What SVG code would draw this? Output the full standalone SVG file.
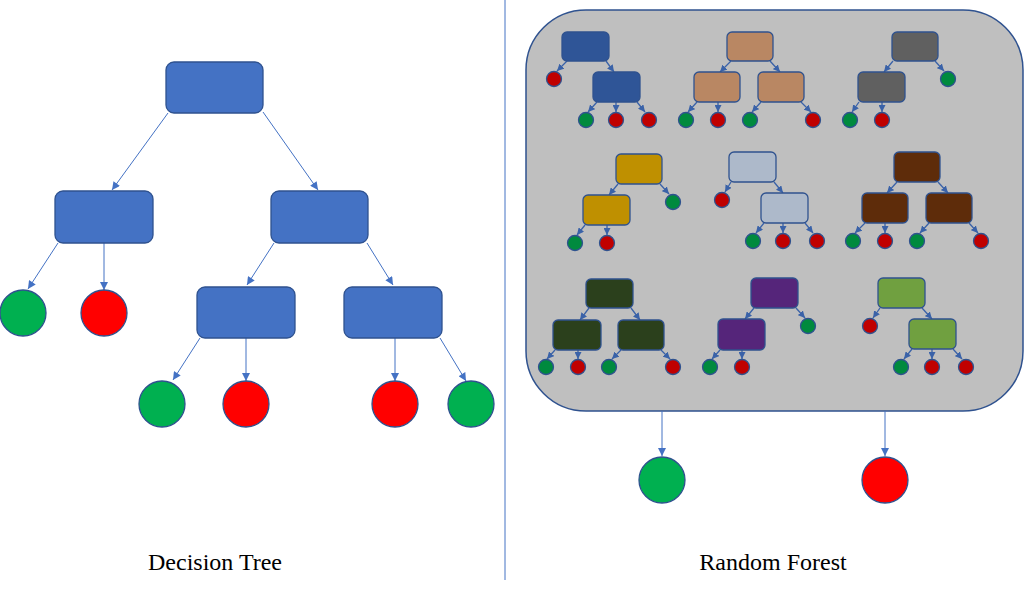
<svg xmlns="http://www.w3.org/2000/svg" width="1024" height="610" viewBox="0 0 1024 610">
<defs>
<marker id="ab" viewBox="0 0 10 10" refX="10" refY="5" markerUnits="userSpaceOnUse" markerWidth="9" markerHeight="8" orient="auto"><path d="M0,0 L10,5 L0,10 z" fill="#4472C4"/></marker>
<marker id="as" viewBox="0 0 10 10" refX="10" refY="5" markerUnits="userSpaceOnUse" markerWidth="7" markerHeight="7" orient="auto"><path d="M0,0 L10,5 L0,10 z" fill="#3A62A8"/></marker>
</defs>
<style>
.bl{stroke:#4472C4;stroke-width:1;fill:none;marker-end:url(#ab)}
.sl{stroke:#3A62A8;stroke-width:1.3;fill:none;marker-end:url(#as)}
.bn{fill:#4472C4;stroke:#2F528F;stroke-width:1.3}
.sn{stroke:#2F528F;stroke-width:1.3}
.g{fill:#00B050;stroke:#2F528F;stroke-width:1.3}
.r{fill:#FF0000;stroke:#2F528F;stroke-width:1.3}
.sg{fill:#008A3E;stroke:#2F528F;stroke-width:1.3}
.sr{fill:#C00000;stroke:#2F528F;stroke-width:1.3}
.t{font-family:"Liberation Serif","Times New Roman",serif;font-size:24px;fill:#000;text-anchor:middle}
</style>
<rect width="1024" height="610" fill="#FFFFFF"/>
<line x1="505" y1="0" x2="505" y2="580" stroke="#4472C4" stroke-width="1"/>
<g id="forest-bg"><rect x="526" y="10" width="497" height="401" rx="60" ry="60" fill="#BFBFBF" stroke="#2F528F" stroke-width="1.5"/></g>
<g id="connectors">
<line class="bl" x1="168" y1="113" x2="112" y2="190"/>
<line class="bl" x1="263" y1="112" x2="318" y2="190"/>
<line class="bl" x1="58" y1="243" x2="28" y2="289"/>
<line class="bl" x1="104" y1="243" x2="104" y2="290"/>
<line class="bl" x1="274" y1="243" x2="247" y2="285"/>
<line class="bl" x1="367" y1="243" x2="393" y2="285"/>
<line class="bl" x1="200" y1="338" x2="173" y2="380"/>
<line class="bl" x1="246" y1="338" x2="246" y2="381"/>
<line class="bl" x1="395" y1="338" x2="395" y2="381"/>
<line class="bl" x1="440" y1="338" x2="466" y2="381"/>
<line class="bl" x1="662" y1="411" x2="662" y2="456"/>
<line class="bl" x1="885" y1="411" x2="885" y2="456"/>
<line class="sl" x1="567" y1="61" x2="557" y2="71"/>
<line class="sl" x1="606" y1="61" x2="614" y2="72"/>
<line class="sl" x1="597" y1="102" x2="588" y2="112"/>
<line class="sl" x1="616" y1="102" x2="616" y2="112"/>
<line class="sl" x1="637" y1="102" x2="645" y2="112"/>
<line class="sl" x1="731" y1="61" x2="720" y2="72"/>
<line class="sl" x1="770" y1="61" x2="780" y2="72"/>
<line class="sl" x1="697" y1="102" x2="688" y2="112"/>
<line class="sl" x1="718" y1="102" x2="718" y2="112"/>
<line class="sl" x1="761" y1="102" x2="752" y2="112"/>
<line class="sl" x1="801" y1="102" x2="811" y2="112"/>
<line class="sl" x1="893" y1="61" x2="884" y2="72"/>
<line class="sl" x1="935" y1="61" x2="944" y2="71"/>
<line class="sl" x1="859" y1="102" x2="852" y2="112"/>
<line class="sl" x1="882" y1="102" x2="882" y2="112"/>
<line class="sl" x1="618" y1="184" x2="609" y2="195"/>
<line class="sl" x1="660" y1="184" x2="669" y2="194"/>
<line class="sl" x1="585" y1="225" x2="577" y2="235"/>
<line class="sl" x1="607" y1="225" x2="607" y2="235"/>
<line class="sl" x1="731" y1="182" x2="725" y2="192"/>
<line class="sl" x1="774" y1="182" x2="783" y2="193"/>
<line class="sl" x1="764" y1="223" x2="756" y2="233"/>
<line class="sl" x1="783" y1="223" x2="783" y2="233"/>
<line class="sl" x1="805" y1="223" x2="813" y2="233"/>
<line class="sl" x1="897" y1="182" x2="887" y2="193"/>
<line class="sl" x1="938" y1="182" x2="948" y2="193"/>
<line class="sl" x1="865" y1="223" x2="855" y2="233"/>
<line class="sl" x1="885" y1="223" x2="885" y2="233"/>
<line class="sl" x1="929" y1="223" x2="920" y2="233"/>
<line class="sl" x1="969" y1="223" x2="978" y2="233"/>
<line class="sl" x1="589" y1="308" x2="580" y2="320"/>
<line class="sl" x1="631" y1="308" x2="640" y2="320"/>
<line class="sl" x1="555" y1="350" x2="547" y2="359"/>
<line class="sl" x1="578" y1="350" x2="578" y2="359"/>
<line class="sl" x1="621" y1="350" x2="612" y2="359"/>
<line class="sl" x1="661" y1="350" x2="670" y2="359"/>
<line class="sl" x1="754" y1="308" x2="745" y2="319"/>
<line class="sl" x1="796" y1="308" x2="805" y2="318"/>
<line class="sl" x1="720" y1="350" x2="712" y2="359"/>
<line class="sl" x1="742" y1="350" x2="742" y2="359"/>
<line class="sl" x1="880" y1="308" x2="873" y2="318"/>
<line class="sl" x1="922" y1="308" x2="932" y2="319"/>
<line class="sl" x1="912" y1="349" x2="904" y2="359"/>
<line class="sl" x1="932" y1="349" x2="932" y2="359"/>
<line class="sl" x1="953" y1="349" x2="962" y2="359"/>
</g>
<g id="dt-root"><rect class="bn" x="166" y="62" width="97" height="51" rx="8"/></g>
<g id="dt-left"><rect class="bn" x="55" y="191" width="98" height="52" rx="8"/></g>
<g id="dt-right"><rect class="bn" x="271" y="191" width="97" height="52" rx="8"/></g>
<g id="dt-rl"><rect class="bn" x="197" y="287" width="98" height="51" rx="8"/></g>
<g id="dt-rr"><rect class="bn" x="344" y="287" width="98" height="51" rx="8"/></g>
<g id="dt-leaf1"><circle class="g" cx="23" cy="313" r="23"/></g>
<g id="dt-leaf2"><circle class="r" cx="104" cy="313" r="23"/></g>
<g id="dt-leaf3"><circle class="g" cx="162" cy="404" r="23"/></g>
<g id="dt-leaf4"><circle class="r" cx="246" cy="404" r="23"/></g>
<g id="dt-leaf5"><circle class="r" cx="395" cy="404" r="23"/></g>
<g id="dt-leaf6"><circle class="g" cx="471" cy="404" r="23"/></g>
<g id="rf-out-green"><circle class="g" cx="662" cy="480" r="23"/></g>
<g id="rf-out-red"><circle class="r" cx="885" cy="480" r="23"/></g>
<g id="tree1">
<rect class="sn" fill="#2F5597" x="562" y="32" width="47" height="29" rx="5"/>
<rect class="sn" fill="#2F5597" x="593" y="72" width="47" height="30" rx="5"/>
<circle class="sr" cx="554" cy="79" r="7.5"/>
<circle class="sg" cx="586" cy="120" r="7.5"/>
<circle class="sr" cx="616" cy="120" r="7.5"/>
<circle class="sr" cx="649" cy="120" r="7.5"/>
</g>
<g id="tree2">
<rect class="sn" fill="#B98763" x="727" y="32" width="46" height="29" rx="5"/>
<rect class="sn" fill="#B98763" x="694" y="72" width="46" height="30" rx="5"/>
<rect class="sn" fill="#B98763" x="758" y="72" width="46" height="30" rx="5"/>
<circle class="sg" cx="686" cy="120" r="7.5"/>
<circle class="sr" cx="718" cy="120" r="7.5"/>
<circle class="sg" cx="750" cy="120" r="7.5"/>
<circle class="sr" cx="813" cy="120" r="7.5"/>
</g>
<g id="tree3">
<rect class="sn" fill="#606060" x="892" y="32" width="46" height="29" rx="5"/>
<rect class="sn" fill="#606060" x="858" y="72" width="47" height="30" rx="5"/>
<circle class="sg" cx="948" cy="79" r="7.5"/>
<circle class="sg" cx="850" cy="120" r="7.5"/>
<circle class="sr" cx="882" cy="120" r="7.5"/>
</g>
<g id="tree4">
<rect class="sn" fill="#BF9000" x="616" y="154" width="46" height="30" rx="5"/>
<rect class="sn" fill="#BF9000" x="583" y="195" width="47" height="30" rx="5"/>
<circle class="sg" cx="673" cy="202" r="7.5"/>
<circle class="sg" cx="575" cy="243" r="7.5"/>
<circle class="sr" cx="607" cy="243" r="7.5"/>
</g>
<g id="tree5">
<rect class="sn" fill="#ADB9CA" x="729" y="152" width="47" height="30" rx="5"/>
<rect class="sn" fill="#ADB9CA" x="761" y="193" width="47" height="30" rx="5"/>
<circle class="sr" cx="722" cy="200" r="7.5"/>
<circle class="sg" cx="753" cy="241" r="7.5"/>
<circle class="sr" cx="783" cy="241" r="7.5"/>
<circle class="sr" cx="817" cy="241" r="7.5"/>
</g>
<g id="tree6">
<rect class="sn" fill="#5E2C0A" x="894" y="152" width="46" height="30" rx="5"/>
<rect class="sn" fill="#5E2C0A" x="862" y="193" width="46" height="30" rx="5"/>
<rect class="sn" fill="#5E2C0A" x="926" y="193" width="46" height="30" rx="5"/>
<circle class="sg" cx="853" cy="241" r="7.5"/>
<circle class="sr" cx="885" cy="241" r="7.5"/>
<circle class="sg" cx="917" cy="241" r="7.5"/>
<circle class="sr" cx="981" cy="241" r="7.5"/>
</g>
<g id="tree7">
<rect class="sn" fill="#2B401C" x="586" y="279" width="47" height="29" rx="5"/>
<rect class="sn" fill="#2B401C" x="553" y="320" width="48" height="30" rx="5"/>
<rect class="sn" fill="#2B401C" x="618" y="320" width="46" height="30" rx="5"/>
<circle class="sg" cx="546" cy="367" r="7.5"/>
<circle class="sr" cx="578" cy="367" r="7.5"/>
<circle class="sg" cx="609" cy="367" r="7.5"/>
<circle class="sr" cx="673" cy="367" r="7.5"/>
</g>
<g id="tree8">
<rect class="sn" fill="#55257A" x="751" y="278" width="47" height="30" rx="5"/>
<rect class="sn" fill="#55257A" x="718" y="319" width="47" height="31" rx="5"/>
<circle class="sg" cx="808" cy="326" r="7.5"/>
<circle class="sg" cx="710" cy="367" r="7.5"/>
<circle class="sr" cx="742" cy="367" r="7.5"/>
</g>
<g id="tree9">
<rect class="sn" fill="#70A040" x="878" y="278" width="47" height="30" rx="5"/>
<rect class="sn" fill="#70A040" x="909" y="319" width="47" height="30" rx="5"/>
<circle class="sr" cx="870" cy="326" r="7.5"/>
<circle class="sg" cx="901" cy="367" r="7.5"/>
<circle class="sr" cx="932" cy="367" r="7.5"/>
<circle class="sr" cx="966" cy="367" r="7.5"/>
</g>
<text class="t" x="215" y="570">Decision Tree</text>
<text class="t" x="773" y="570">Random Forest</text>
</svg>
